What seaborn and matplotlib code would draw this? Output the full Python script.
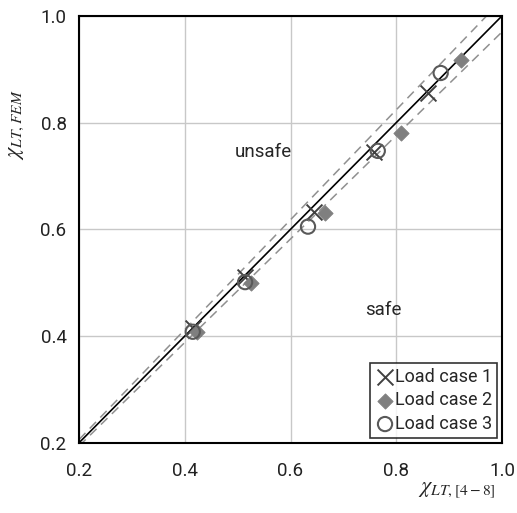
import numpy as np
import pandas as pd
import matplotlib
matplotlib.use('Agg')
import matplotlib.pyplot as plt
import seaborn as sns

# data
lc1_x = [0.415, 0.514, 0.645, 0.757, 0.860]
lc1_y = [0.415, 0.511, 0.633, 0.745, 0.855]
lc2_x = [0.423, 0.525, 0.665, 0.809, 0.922]
lc2_y = [0.408, 0.500, 0.631, 0.781, 0.918]
lc3_x = [0.415, 0.514, 0.633, 0.765, 0.884]
lc3_y = [0.408, 0.501, 0.605, 0.747, 0.893]
ticks = [0.2, 0.4, 0.6, 0.8, 1.0]
band = 0.03

df = pd.concat([
    pd.DataFrame({'x': lc1_x, 'y': lc1_y, 'case': 'Load case 1'}),
    pd.DataFrame({'x': lc2_x, 'y': lc2_y, 'case': 'Load case 2'}),
    pd.DataFrame({'x': lc3_x, 'y': lc3_y, 'case': 'Load case 3'}),
])

sns.set_style('white')
plt.rcParams['font.family'] = ['Roboto', 'DejaVu Sans']
plt.rcParams['mathtext.fontset'] = 'stix'

fig = plt.figure(figsize=(5.17, 5.13), dpi=100)
ax = fig.add_axes([0.153, 0.137, 0.818, 0.832])

# reference lines
xx = np.array([0.2, 1.0])
ax.plot(xx, xx, color='black', lw=1.2, zorder=2)
ax.plot(xx, xx * (1 + band), color='#909090', lw=1.1, ls=(0, (6, 4)), zorder=2)
ax.plot(xx, xx * (1 - band), color='#909090', lw=1.1, ls=(0, (6, 4)), zorder=2)

sns.scatterplot(data=df[df.case == 'Load case 1'], x='x', y='y', marker='x', s=130,
                color='#404040', linewidth=1.4, ax=ax, label='Load case 1', zorder=3)
sns.scatterplot(data=df[df.case == 'Load case 2'], x='x', y='y', marker='D', s=60,
                color='#7f7f7f', edgecolor='#7f7f7f', ax=ax, label='Load case 2', zorder=3)
sns.scatterplot(data=df[df.case == 'Load case 3'], x='x', y='y', marker='o', s=105,
                facecolor='none', edgecolor='#595959', linewidth=1.5, ax=ax,
                label='Load case 3', zorder=3)

ax.set_xlim(0.2, 1.0)
ax.set_ylim(0.2, 1.0)
ax.set_xticks(ticks)
ax.set_yticks(ticks)
ax.set_xticklabels([f'{t:.1f}' for t in ticks], fontsize=13.5, color='#222222')
ax.set_yticklabels([f'{t:.1f}' for t in ticks], fontsize=13.5, color='#222222')
ax.tick_params(axis='x', pad=14, length=0)
ax.tick_params(axis='y', pad=9, length=0)
ax.grid(True, color='#c8c8c8', lw=1)
for s in ax.spines.values():
    s.set_color('black')
    s.set_linewidth(1.5)

ax.set_xlabel(r'$\chi_{LT,[4-8]}$', fontsize=16)
ax.set_ylabel(r'$\chi_{LT,FEM}$', fontsize=16)
ax.xaxis.set_label_coords(0.894, -0.085)
ax.yaxis.set_label_coords(-0.125, 0.745)

ax.text(0.548, 0.745, 'unsafe', fontsize=13.5, ha='center', va='center')
ax.text(0.775, 0.449, 'safe', fontsize=13.5, ha='center', va='center')

leg = ax.legend(loc='lower right', fontsize=13, frameon=True, fancybox=False,
                edgecolor='black', handletextpad=0.0, borderpad=0.3,
                labelspacing=0.3, handlelength=1.1, borderaxespad=0.25)
leg.get_frame().set_linewidth(1.2)

fig.savefig('out.png', dpi=100)
